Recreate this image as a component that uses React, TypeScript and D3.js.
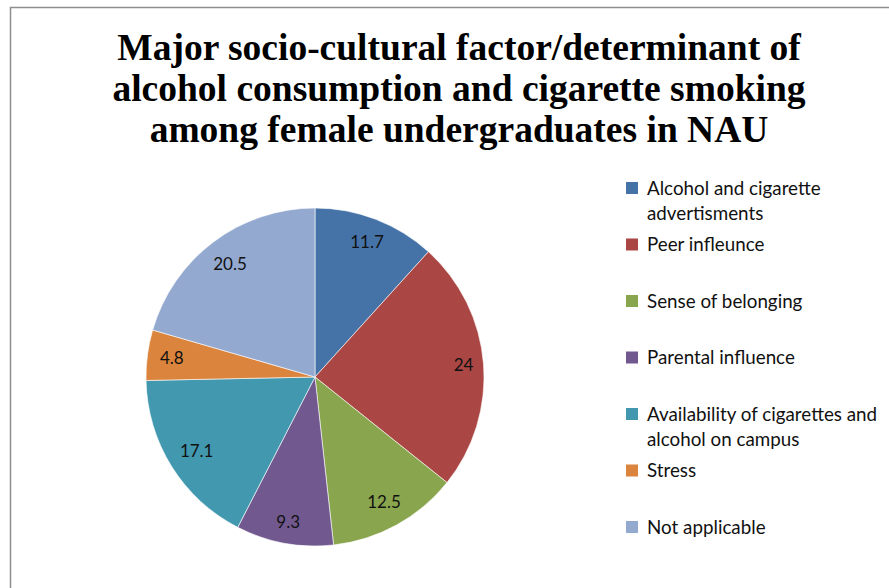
import React from "react";
import * as d3 from "d3";

const titleLines = [
  "Major socio-cultural factor/determinant of",
  "alcohol consumption and cigarette smoking",
  "among female undergraduates in NAU",
];
const categories = [
  ["Alcohol and cigarette", "advertisments"],
  ["Peer infleunce"],
  ["Sense of belonging"],
  ["Parental influence"],
  ["Availability of cigarettes and", "alcohol on campus"],
  ["Stress"],
  ["Not applicable"],
];
const values = [11.7, 24, 12.5, 9.3, 17.1, 4.8, 20.5];
const colors = ["#4572A7", "#AA4643", "#89A54E", "#71588F", "#4198AF", "#DB843D", "#93A9CF"];

const W = 889;
const H = 588;
const cx = 315;
const cy = 377;
const R = 169;

export default function App() {
  const pie = d3.pie<number>().sort(null).value((d) => d);
  const arcs = pie(values);
  const arcGen = d3.arc<d3.PieArcDatum<number>>().innerRadius(0).outerRadius(R);

  // inside-end label placement: push label box outward until it touches R - pad
  const labelPos = (a: d3.PieArcDatum<number>, text: string) => {
    const mid = (a.startAngle + a.endAngle) / 2;
    const dx = Math.sin(mid);
    const dy = -Math.cos(mid);
    const w = text.length * 8.8;
    const h = 16;
    const lim = R - 10;
    let d = 0;
    for (let t = 0; t < R; t += 0.5) {
      const px = t * dx;
      const py = t * dy;
      let ok = true;
      for (const sx of [-1, 1])
        for (const sy of [-1, 1]) {
          const x = px + (sx * w) / 2;
          const y = py + (sy * h) / 2;
          if (Math.hypot(x, y) > lim) ok = false;
        }
      if (!ok) break;
      d = t;
    }
    return [d * dx, d * dy];
  };

  const legendX = 626;
  const legendY0 = 188;
  const legendStep = 56.5;

  return (
    <svg
      width={W}
      height={H}
      style={{ position: "absolute", left: 0, top: 0, background: "#fff" }}
    >
      <rect x={10.5} y={7.5} width={W + 10} height={H + 10} fill="#fff" stroke="#8e8e8e" strokeWidth={1.5} />
      <g fontFamily="'Liberation Serif', 'Times New Roman', serif" fontWeight="bold" fontSize={37.5} fill="#000" textAnchor="middle">
        {titleLines.map((l, i) => (
          <text key={i} x={459} y={60 + i * 41}>
            {l}
          </text>
        ))}
      </g>
      <g transform={`translate(${cx},${cy})`}>
        {arcs.map((a, i) => (
          <path key={i} d={arcGen(a) || ""} fill={colors[i]} stroke="#ffffff" strokeOpacity={0.6} strokeWidth={1} />
        ))}
        {arcs.map((a, i) => {
          const t = String(values[i]);
          const [x, y] = labelPos(a, t);
          return (
            <text
              key={i}
              x={x}
              y={y}
              dy="0.35em"
              textAnchor="middle"
              fontFamily="Lato, 'Open Sans', sans-serif"
              fontSize={17}
              fill="#111"
            >
              {t}
            </text>
          );
        })}
      </g>
      <g fontFamily="Lato, 'Open Sans', sans-serif" fontSize={18.8} fill="#111">
        {categories.map((lines, i) => {
          const y = legendY0 + i * legendStep;
          return (
            <g key={i}>
              <rect x={legendX} y={y - 6} width={12} height={12} fill={colors[i]} />
              {lines.map((l, j) => (
                <text key={j} x={647} y={y + j * 25} dy="0.35em">
                  {l}
                </text>
              ))}
            </g>
          );
        })}
      </g>
    </svg>
  );
}
